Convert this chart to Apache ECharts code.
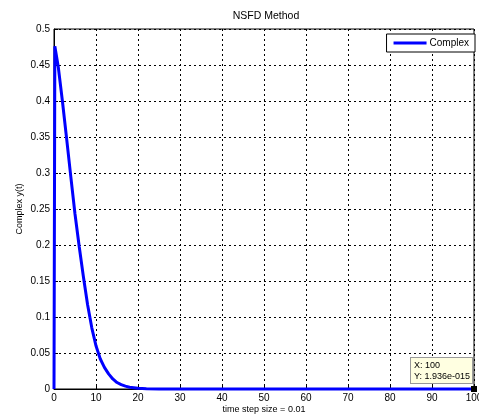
<!DOCTYPE html>
<html><head><meta charset="utf-8">
<script src="https://cdn.jsdelivr.net/npm/echarts@6/dist/echarts.min.js"></script>
<style>html,body{margin:0;padding:0;background:#fff}#c{width:479px;height:414px}</style>
</head><body><div id="c"></div>
<script>
var xs = [0,0.2,1,2,3,4,5,6,7,8,9,10,11,12,13,14,15,16,17,18,20,22,25,30,40,50,60,70,80,90,100];
var ys = [0,0.476,0.448,0.400,0.348,0.295,0.243,0.198,0.156,0.117,0.085,0.060,0.042,0.030,0.021,0.014,0.009,0.006,0.004,0.0025,0.001,0.0004,0.0001,0,0,0,0,0,0,0,1.936e-15];
var xTicks = [0,10,20,30,40,50,60,70,80,90,100];
var yTicks = [0,0.05,0.1,0.15,0.2,0.25,0.3,0.35,0.4,0.45,0.5];
var tip = {x:100, y:1.936e-15, label:'X: 100\nY: 1.936e-015'};

var font = 'Liberation Sans, Arial, sans-serif';
var data = xs.map(function(x,i){return [x, ys[i]];});
var chart = echarts.init(document.getElementById('c'), null, {renderer:'canvas'});
chart.setOption({
  animation:false,
  backgroundColor:'#fff',
  title:{text:'NSFD Method', left:266, top:11, textAlign:'center', padding:0,
    textStyle:{fontFamily:font, fontSize:10.5, fontWeight:'normal', color:'#000'}},
  grid:{left:54, right:5, top:29, bottom:25, show:true, borderColor:'#000', borderWidth:1, backgroundColor:'#fff',
    outerBoundsMode:'none', containLabel:false},
  legend:{right:4, top:34, data:['Complex'], itemWidth:33, itemHeight:3, itemGap:4,
    backgroundColor:'#fff', borderColor:'#000', borderWidth:1, padding:[4,6,4,7],
    icon:'rect',
    textStyle:{fontFamily:font, fontSize:10, color:'#000', padding:[0,0,0,-2]}},
  xAxis:{type:'value', min:0, max:100, interval:10,
    name:'time step size = 0.01', nameLocation:'middle', nameGap:16, nameMoveOverlap:false,
    nameTextStyle:{fontFamily:font, fontSize:9, color:'#000'},
    axisLine:{show:true, onZero:false, lineStyle:{color:'#000', width:1}},
    axisTick:{show:true, inside:true, length:4, lineStyle:{color:'#000'}},
    axisLabel:{fontFamily:font, fontSize:10, color:'#000', margin:4, hideOverlap:false,
      formatter:function(v){return xTicks.indexOf(v)>=0 ? String(v) : '';}},
    splitLine:{show:true, lineStyle:{color:'#000', type:[2,3], width:1}}},
  yAxis:{type:'value', min:0, max:0.5, interval:0.05,
    name:'Complex y(t)', nameLocation:'middle', nameGap:30, nameRotate:90, nameMoveOverlap:false,
    nameTextStyle:{fontFamily:font, fontSize:9, color:'#000'},
    axisLine:{show:true, onZero:false, lineStyle:{color:'#000', width:1}},
    axisTick:{show:true, inside:true, length:4, lineStyle:{color:'#000'}},
    axisLabel:{fontFamily:font, fontSize:10, color:'#000', margin:4,
      formatter:function(v){
        for (var i=0;i<yTicks.length;i++){ if (Math.abs(yTicks[i]-v)<1e-9) return String(yTicks[i]); }
        return '';
      }},
    splitLine:{show:true, lineStyle:{color:'#000', type:[2,3], width:1}}},
  series:[{
    name:'Complex', type:'line', data:data, showSymbol:false, symbol:'none',
    lineStyle:{color:'#0000ff', width:3}, itemStyle:{color:'#0000ff'},
    clip:false,
    markPoint:{
      symbol:'rect', symbolSize:6,
      itemStyle:{color:'#000'},
      data:[{coord:[tip.x, tip.y]}],
      label:{show:true, formatter:tip.label, position:[-60,-28],
        fontFamily:font, fontSize:9, lineHeight:11, color:'#000',
        backgroundColor:'#ffffe1', borderColor:'#999', borderWidth:1,
        padding:[2,2,1,3], align:'left'}
    }
  }]
});
</script></body></html>
